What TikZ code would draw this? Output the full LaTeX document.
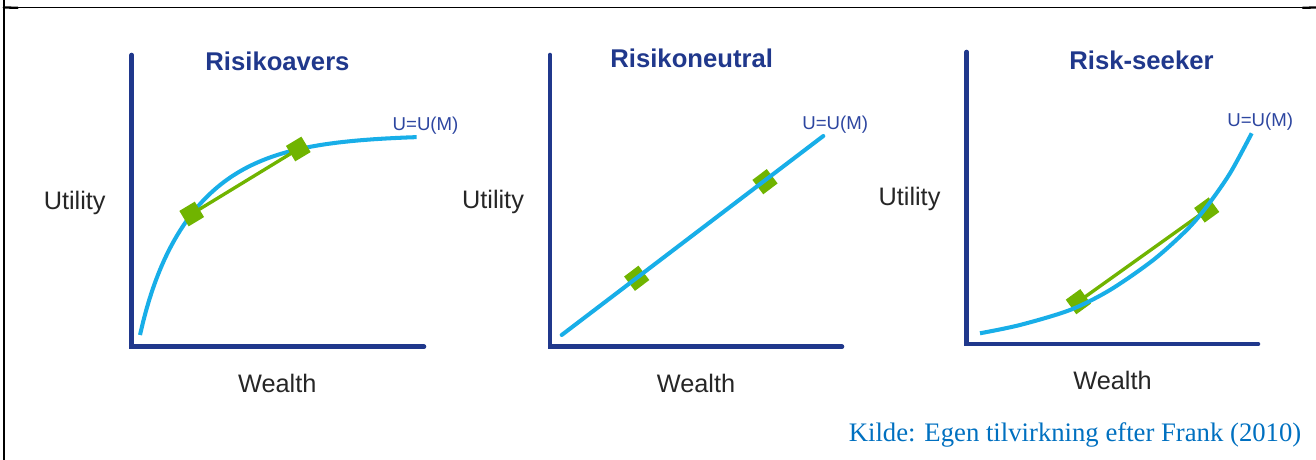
\documentclass[tikz,border=0pt]{standalone}
\usepackage{fontspec}
\setmainfont{Liberation Sans}
\newfontfamily\sourcefont{Liberation Serif}
\usepackage{tikz}
\usepackage{tkz-euclide}

\definecolor{axisblue}{RGB}{32,56,140}
\definecolor{fnblue}{RGB}{45,70,160}
\definecolor{curveblue}{RGB}{24,174,232}
\definecolor{chordgreen}{RGB}{112,180,0}
\definecolor{labelgray}{RGB}{38,38,38}
\definecolor{sourceblue}{RGB}{0,112,192}

\begin{document}
\begin{tikzpicture}[%
  axis/.style   = {line width=1.3pt, color=axisblue},
  curve/.style  = {line width=1.15pt, color=curveblue},
  chord/.style  = {line width=0.95pt, color=chordgreen},
  border/.style = {line width=0.35pt, color=black},
  marker/.style = {rectangle, fill=chordgreen, minimum size=0.18cm, inner sep=0pt},
  title/.style  = {inner sep=0pt, text=axisblue, font=\fontsize{7.3}{8}\selectfont\bfseries},
  lab/.style    = {inner sep=0pt, text=labelgray, font=\fontsize{7.2}{8}\selectfont},
  fn/.style     = {inner sep=0pt, anchor=west, text=fnblue, font=\fontsize{5.3}{6}\selectfont},
]

  \useasboundingbox (0,0) rectangle (13.16,-4.6);

  % cell border
  \tkzDefPoint(0.038, 0.0){F1}
  \tkzDefPoint(0.038, -4.6){F2}
  \tkzDefPoint(0.038, -0.075){F3}
  \tkzDefPoint(13.16, -0.075){F4}
  \tkzDefPoint(0.177, -0.078){F5}
  \tkzDefPoint(13.027, -0.078){F6}
  \tkzDrawSegment[border, line width=0.65pt](F1,F2)
  \tkzDrawSegment[border](F3,F4)
  \tkzDrawSegment[border, line width=0.65pt](F3,F5)
  \tkzDrawSegment[border, line width=0.65pt](F6,F4)

  % risk averse
  \tkzDefPoint(1.317, -0.55){Y1}
  \tkzDefPoint(1.317, -3.467){O1}
  \tkzDefPoint(4.24, -3.467){X1}
  \tkzDefPoint(1.917, -2.14){P1}
  \tkzDefPoint(2.983, -1.49){Q1}
  \tkzDrawPolySeg[axis](Y1,O1,X1)
  \draw[curve] plot[domain=0:2.767, samples=90]
    ({1.40+\x}, {-3.35+1.8*(1-exp(-1.6*\x))+0.2*(1-exp(-8*\x))});
  \tkzDrawSegment[chord](P1,Q1)
  \node[marker, rotate=31] (p1) at (P1) {};
  \node[marker, rotate=31] (q1) at (Q1) {};
  \node[title] (t1) at (2.775, -0.617) {Risikoavers};
  \node[lab] (u1) at (0.747, -2.03) {Utility};
  \node[lab] (w1) at (2.773, -3.83) {Wealth};
  \node[fn] (f1) at (3.92, -1.26) {U=U(M)};

  % risk neutral
  \tkzDefPoint(5.50, -0.55){Y2}
  \tkzDefPoint(5.50, -3.467){O2}
  \tkzDefPoint(8.42, -3.467){X2}
  \tkzDefPoint(5.617, -3.35){A2}
  \tkzDefPoint(8.233, -1.36){B2}
  \tkzDefPoint(6.367, -2.783){P2}
  \tkzDefPoint(7.65, -1.817){Q2}
  \tkzDrawPolySeg[axis](Y2,O2,X2)
  \node[marker, rotate=37] (p2) at (P2) {};
  \node[marker, rotate=37] (q2) at (Q2) {};
  \tkzDrawSegment[curve](A2,B2)
  \node[title] (t2) at (6.917, -0.583) {Risikoneutral};
  \node[lab] (u2) at (4.93, -2.017) {Utility};
  \node[lab] (w2) at (6.96, -3.83) {Wealth};
  \node[fn] (f2) at (8.017, -1.25) {U=U(M)};

  % risk seeker
  \tkzDefPoint(9.667, -0.52){Y3}
  \tkzDefPoint(9.667, -3.44){O3}
  \tkzDefPoint(12.58, -3.44){X3}
  \tkzDefPoint(10.783, -3.017){P3}
  \tkzDefPoint(12.067, -2.10){Q3}
  \tkzDrawPolySeg[axis](Y3,O3,X3)
  \node[marker, rotate=36] (p3) at (P3) {};
  \node[marker, rotate=36] (q3) at (Q3) {};
  \tkzDrawSegment[chord](P3,Q3)
  \draw[curve] plot[smooth] coordinates {(9.80,-3.333) (10.20,-3.25) (10.70,-3.10)
    (11.10,-2.90) (11.533,-2.60) (11.867,-2.30) (12.067,-2.067) (12.30,-1.733)
    (12.517,-1.333)};
  \node[title] (t3) at (11.415, -0.60) {Risk-seeker};
  \node[lab] (u3) at (9.095, -1.99) {Utility};
  \node[lab] (w3) at (11.125, -3.80) {Wealth};
  \node[fn] (f3) at (12.267, -1.22) {U=U(M)};

  % source line
  \node[inner sep=0pt, anchor=east, text=sourceblue,
    font=\sourcefont\fontsize{7.6}{9}\selectfont] (src) at (13.02, -4.35)
    {Kilde: Egen tilvirkning efter Frank (2010)};

\end{tikzpicture}
\end{document}
